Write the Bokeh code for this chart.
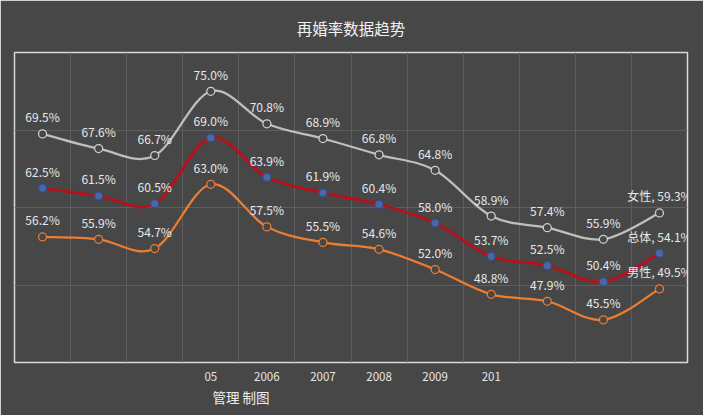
from bokeh.plotting import figure
from bokeh.models import ColumnDataSource, FixedTicker, Range1d, Title
from bokeh.core.properties import value
from bokeh.embed import file_html
from bokeh.resources import INLINE

years = ["2002", "2003", "2004", "2005", "2006", "2007", "2008", "2009", "2010", "2011", "2012", "2013"]
tick_labels = ["", "", "", "05", "2006", "2007", "2008", "2009", "201", "", "", ""]
female = [69.5, 67.6, 66.7, 75.0, 70.8, 68.9, 66.8, 64.8, 58.9, 57.4, 55.9, 59.3]
total = [62.5, 61.5, 60.5, 69.0, 63.9, 61.9, 60.4, 58.0, 53.7, 52.5, 50.4, 54.1]
male = [56.2, 55.9, 54.7, 63.0, 57.5, 55.5, 54.6, 52.0, 48.8, 47.9, 45.5, 49.5]
series_names = ["女性", "总体", "男性"]
title_text = "再婚率数据趋势"
watermark_text = "管理  制图"

BG = "#474747"
FONT = "Noto Sans CJK SC"

p = figure(width=703, height=415, output_backend="svg", toolbar_location=None, title=None,
           x_range=Range1d(-0.5, len(years) - 0.5), y_range=Range1d(40, 80),
           min_border_left=14, min_border_right=16, min_border_top=52, min_border_bottom=53)
p.background_fill_color = BG
p.border_fill_color = BG
p.outline_line_color = "#d9d9d9"
p.outline_line_width = 1.5

main_title = Title(text=title_text, align="center", text_color="#f2f2f2", text_font=FONT,
                   text_font_size="15.5px", text_font_style="normal", standoff=0,
                   padding=dict(left=0, right=0, top=0, bottom=14))
p.add_layout(main_title, "above")

xs = list(range(len(years)))

p.yaxis.visible = False
p.ygrid.ticker = FixedTicker(ticks=[50, 60, 70])
p.ygrid.grid_line_color = "#5e5e5e"
p.ygrid.grid_line_width = 1
p.xgrid.ticker = FixedTicker(ticks=[i + 0.5 for i in xs[:-1]])
p.xgrid.grid_line_color = "#5e5e5e"
p.xgrid.grid_line_width = 1

xa = p.xaxis[0]
xa.ticker = FixedTicker(ticks=xs)
xa.major_label_overrides = {i: t for i, t in zip(xs, tick_labels)}
xa.axis_line_color = None
xa.major_tick_line_color = None
xa.minor_tick_line_color = None
xa.major_tick_out = 0
xa.major_label_standoff = 9
xa.major_label_text_color = "#e6e6e6"
xa.major_label_text_font = FONT
xa.major_label_text_font_size = "11.5px"


def bezier_source(x, y):
    n = len(x)
    d = dict(x0=[], y0=[], x1=[], y1=[], cx0=[], cy0=[], cx1=[], cy1=[])
    for i in range(n - 1):
        a = i - 1 if i > 0 else i
        b = i + 2 if i + 2 < n else i + 1
        d["x0"].append(x[i]); d["y0"].append(y[i])
        d["x1"].append(x[i + 1]); d["y1"].append(y[i + 1])
        d["cx0"].append(x[i] + (x[i + 1] - x[a]) / 6)
        d["cy0"].append(y[i] + (y[i + 1] - y[a]) / 6)
        d["cx1"].append(x[i + 1] - (x[b] - x[i]) / 6)
        d["cy1"].append(y[i + 1] - (y[b] - y[i]) / 6)
    return ColumnDataSource(d)


styles = [
    (female, "#bfbfbf", 2.25, BG, "#d0d0d0"),
    (total, "#b3121c", 3.0, "#4a68a6", "#33508c"),
    (male, "#ed7d31", 2.25, BG, "#ed7d31"),
]

for (vals, color, lw, mfill, mline), name in zip(styles, series_names):
    src = bezier_source(xs, vals)
    p.bezier(x0="x0", y0="y0", x1="x1", y1="y1", cx0="cx0", cy0="cy0", cx1="cx1", cy1="cy1",
             source=src, line_color=color, line_width=lw)
    p.scatter(xs, vals, size=8, marker="circle", fill_color=mfill, line_color=mline, line_width=1.25)
    texts = [f"{v:.1f}%" for v in vals]
    texts[-1] = f"{name}, {vals[-1]:.1f}%"
    lsrc = ColumnDataSource(dict(x=xs, y=vals, t=texts))
    p.text(x="x", y="y", text="t", source=lsrc, text_align="center", text_baseline="middle",
           y_offset=-17, text_color="#e8e8e8", text_font=value(FONT), text_font_size="12px")

wm = Title(text=watermark_text, align="left", offset=198, standoff=2,
           text_color="#eeeeee", text_font=FONT, text_font_size="13.5px", text_font_style="normal")
p.add_layout(wm, "below")

html = file_html(p, INLINE)
html = html.replace("<body>", '<body style="background-color:#474747;">', 1)
open("out.html", "w").write(html)
